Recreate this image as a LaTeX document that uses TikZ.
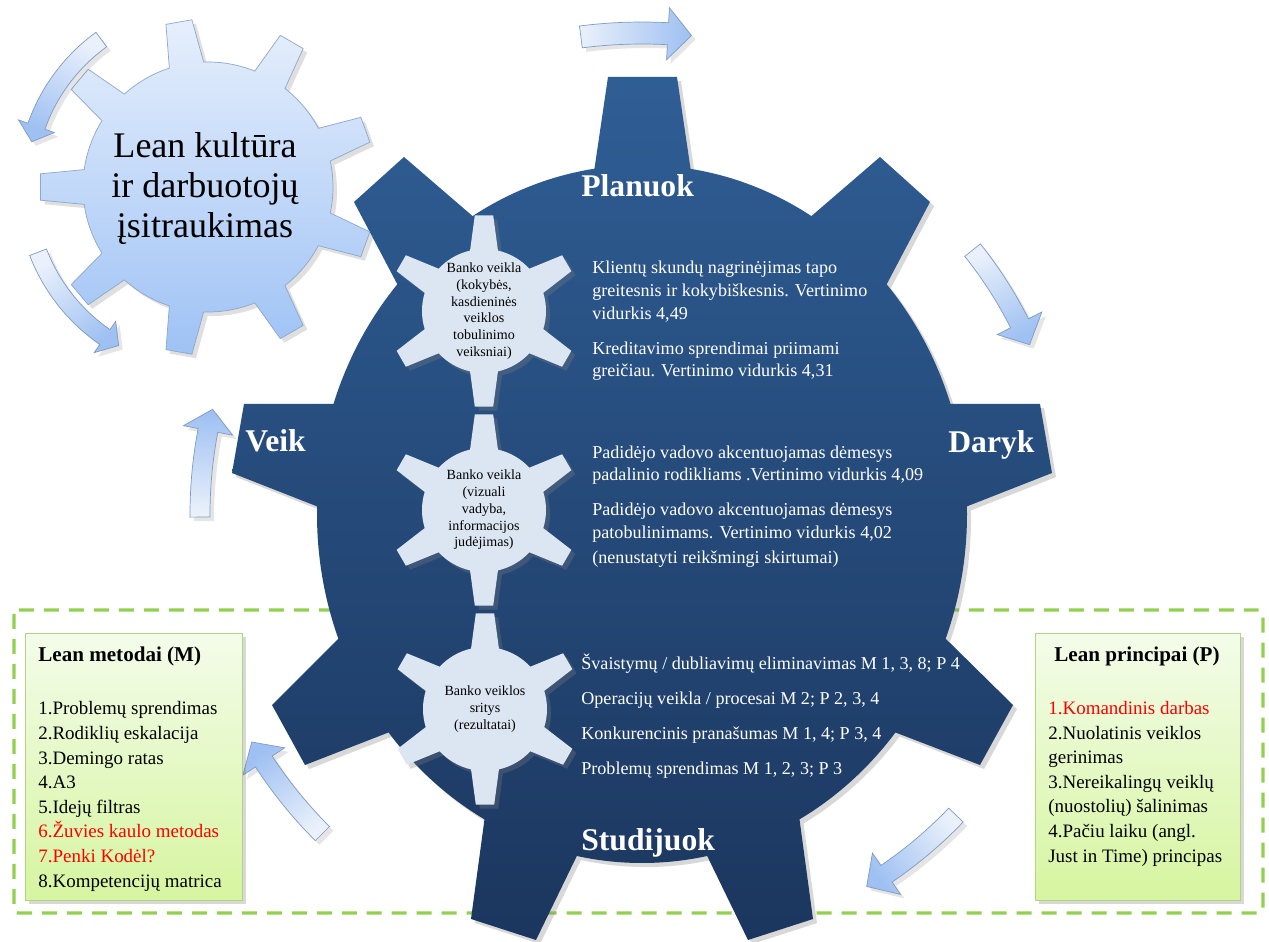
\documentclass[tikz,border=0pt]{standalone}
\usepackage{fontspec}
\setmainfont{Liberation Serif}
\usetikzlibrary{shadows}
\definecolor{gearTop}{RGB}{47,94,149}
\definecolor{gearBottom}{RGB}{27,54,94}
\definecolor{cogFill}{RGB}{220,230,242}
\definecolor{leanTop}{RGB}{230,239,252}
\definecolor{leanBottom}{RGB}{158,194,245}
\definecolor{leanLine}{RGB}{142,167,202}
\definecolor{arrowLight}{RGB}{234,241,251}
\definecolor{arrowDark}{RGB}{158,192,242}
\definecolor{arrowLine}{RGB}{128,155,192}
\definecolor{boxTop}{RGB}{244,252,234}
\definecolor{boxBottom}{RGB}{214,245,160}
\definecolor{boxLine}{RGB}{178,212,128}
\definecolor{dashGreen}{RGB}{146,208,80}
\definecolor{itemRed}{RGB}{255,0,0}
% #1 teeth, #2 first tooth angle, #3 root radius, #4 tip radius, #5 half angle at root, #6 half angle at tip
\newcommand{\cogpath}[6]{({#2-#5}:#3) \foreach \k in {1,...,#1}{ -- ({#2+(\k-1)*360/#1-#6}:#4) -- ({#2+(\k-1)*360/#1+#6}:#4) -- ({#2+(\k-1)*360/#1+#5}:#3) arc[start angle={#2+(\k-1)*360/#1+#5}, end angle={#2+\k*360/#1-#5}, radius=#3]} -- cycle}
% #1 mid radius, #2 tail angle, #3 head angle, #4 tip angle, #5 half body, #6 half head
\newcommand{\ringarrow}[6]{({#2}:{#1+#5}) arc[start angle={#2}, end angle={#3}, radius={#1+#5}] -- ({#3}:{#1+#6}) -- ({#4}:{#1}) -- ({#3}:{#1-#6}) -- ({#3}:{#1-#5}) arc[start angle={#3}, end angle={#2}, radius={#1-#5}] -- cycle}
\tikzstyle{biggear} = [top color=gearTop, bottom color=gearBottom, drop shadow={opacity=.3}]
\tikzstyle{smallgear} = [fill=cogFill, drop shadow={opacity=.3}]
\tikzstyle{leangear} = [draw=leanLine, thin, top color=leanTop, bottom color=leanBottom, drop shadow={opacity=.25}]
\tikzstyle{cyclearrow} = [draw=arrowLine, thin, top color=arrowLight, bottom color=arrowDark, drop shadow={opacity=.2}]
\tikzstyle{phase} = [text=white, font=\fontsize{18}{20}\selectfont\bfseries, inner sep=0pt, anchor=base west]
\tikzstyle{bodytext} = [text=white, align=left, font=\fontsize{10.3}{13}\selectfont, inner sep=0pt, anchor=base west]
\tikzstyle{cogtext} = [align=center, font=\fontsize{8}{9.5}\selectfont, inner sep=0pt]
\tikzstyle{leantext} = [align=center, font=\fontsize{20.5}{23}\selectfont, inner sep=0pt, anchor=base]
\tikzstyle{leanbox} = [draw=boxLine, top color=boxTop, bottom color=boxBottom, minimum height=5.34cm, drop shadow={opacity=.3}]
\tikzstyle{boxtitle} = [font=\fontsize{12}{14}\selectfont\bfseries, inner sep=0pt]
\tikzstyle{boxlist} = [align=left, font=\fontsize{10.8}{14}\selectfont, inner sep=0pt, anchor=base west]
\tikzstyle{dashframe} = [draw=dashGreen, line width=1.85pt, dash pattern=on 0.3cm off 0.2cm, rounded corners=0.08cm]

\begin{document}
\begin{tikzpicture}[x=0.02cm, y=-0.02cm]
	\fill[white] (0,0) rectangle (1269,942);
	\path[use as bounding box] (0,0) rectangle (1269,942);
	\draw[dashframe] (14,610) rectangle (1263,913);
	% big gear: body and nine teeth
	\path[biggear] (642,514) ellipse [x radius=325, y radius=349]
		(588.5,209) -- (608,77) -- (677,77) -- (696.5,209) -- cycle
		(782.5,241) -- (880,157) -- (930,202) -- (870,316) -- cycle
		(912.5,404) -- (1040,404) -- (1052,473) -- (933.5,519.5) -- cycle
		(918.5,612) -- (1013,705) -- (980,765) -- (863,720) -- cycle
		(793.5,775) -- (813,919) -- (748,940) -- (695.5,832) -- cycle
		(588.5,832) -- (536,940) -- (471,919) -- (490.5,775) -- cycle
		(420.5,720) -- (305,765) -- (272,705) -- (365,612) -- cycle
		(350.5,519.5) -- (232,473) -- (244,404) -- (371.5,404) -- cycle
		(414,316) -- (354,202) -- (404,157) -- (501.5,241) -- cycle;
	\path[smallgear, shift={(484,311)}] \cogpath{6}{30}{62}{96}{13}{5.5};
	\path[smallgear, shift={(484,510)}] \cogpath{6}{30}{62}{96}{13}{5.5};
	\path[smallgear, shift={(485,709)}] \cogpath{6}{30}{62}{96}{13}{5.5};
	\node[cogtext] (kokybe) at (484,311) {Banko veikla\\(kokybės,\\kasdieninės\\veiklos\\tobulinimo\\veiksniai)};
	\node[cogtext] (vizuali) at (484,510) {Banko veikla\\(vizuali\\vadyba,\\informacijos\\judėjimas)};
	\node[cogtext] (sritys) at (485,709) {Banko veiklos\\sritys\\(rezultatai)};
	\node[phase] (planuok) at (581,197) {Planuok};
	\node[phase] (daryk) at (948,453) {Daryk};
	\node[phase] (veik) at (245,452) {Veik};
	\node[phase] (studijuok) at (581,850) {Studijuok};
	\node[bodytext] (skundai) at (592,377) {Klientų skundų nagrinėjimas tapo\\greitesnis ir kokybiškesnis. Vertinimo\\vidurkis 4,49\\[6.8pt]Kreditavimo sprendimai priimami\\greičiau. Vertinimo vidurkis 4,31};
	\node[bodytext] (demesys) at (592,564) {Padidėjo vadovo akcentuojamas dėmesys\\padalinio rodikliams .Vertinimo vidurkis 4,09\\[6.8pt]Padidėjo vadovo akcentuojamas dėmesys\\patobulinimams. Vertinimo vidurkis 4,02\\[1.5pt](nenustatyti reikšmingi skirtumai)};
	\node[bodytext] (sritis) at (581,774) {Švaistymų / dubliavimų eliminavimas M 1, 3, 8; P 4\\[6.8pt]Operacijų veikla / procesai M 2; P 2, 3, 4\\[6.8pt]Konkurencinis pranašumas M 1, 4; P 3, 4\\[6.8pt]Problemų sprendimas M 1, 2, 3; P 3};
	% lean culture gear with its two arrows
	\path[leangear, shift={(208,187)}] \cogpath{9}{20}{125}{168}{8}{4.5};
	\node[leantext] (kultura) at (205,238) {Lean kultūra\\ir darbuotojų\\įsitraukimas};
	\path[cyclearrow, shift={(208,187)}, shading angle=-30] \ringarrow{182}{-125.9}{-160.5}{-165.6}{9}{19};
	\path[cyclearrow, shift={(208,187)}, shading angle=37] \ringarrow{182}{-201}{-235.5}{-240.6}{9}{19};
	% cycle arrows round the big gear
	\path[cyclearrow, shift={(642,514)}, shading angle=90] \ringarrow{481}{-97.3}{-86.9}{-84.1}{11}{26};
	\path[cyclearrow, shift={(642,514)}, shading angle=27] \ringarrow{423}{-38.6}{-26.8}{-23.6}{10}{25};
	\path[cyclearrow, shift={(642,514)}, shading angle=-54] \ringarrow{435}{43.8}{55.8}{58.9}{10}{25};
	\path[cyclearrow, shift={(642,514)}, shading angle=-143] \ringarrow{452}{135}{146.8}{149.7}{10}{25};
	\path[cyclearrow, shift={(642,514)}, shading angle=174] \ringarrow{442}{179.6}{190.9}{193.7}{10}{25};
	% method and principle boxes
	\node[leanbox, minimum width=4.34cm] (metodai) at (133.5,766.5) {};
	\node[leanbox, minimum width=4.1cm] (principai) at (1137.5,766.5) {};
	\node[boxtitle, anchor=base west] (metodaititle) at (38,662) {Lean metodai (M)};
	\node[boxtitle, anchor=base] (principaititle) at (1137,662) {Lean principai (P)};
	\node[boxlist] (metodailist) at (38,887) {1.Problemų sprendimas\\2.Rodiklių eskalacija\\3.Demingo ratas\\4.A3\\5.Idejų filtras\\\textcolor{itemRed}{6.Žuvies kaulo metodas}\\\textcolor{itemRed}{7.Penki Kodėl?}\\8.Kompetencijų matrica};
	\node[boxlist] (principailist) at (1048,862) {\textcolor{itemRed}{1.Komandinis darbas}\\2.Nuolatinis veiklos\\gerinimas\\3.Nereikalingų veiklų\\(nuostolių) šalinimas\\4.Pačiu laiku (angl.\\Just in Time) principas};
\end{tikzpicture}
\end{document}
